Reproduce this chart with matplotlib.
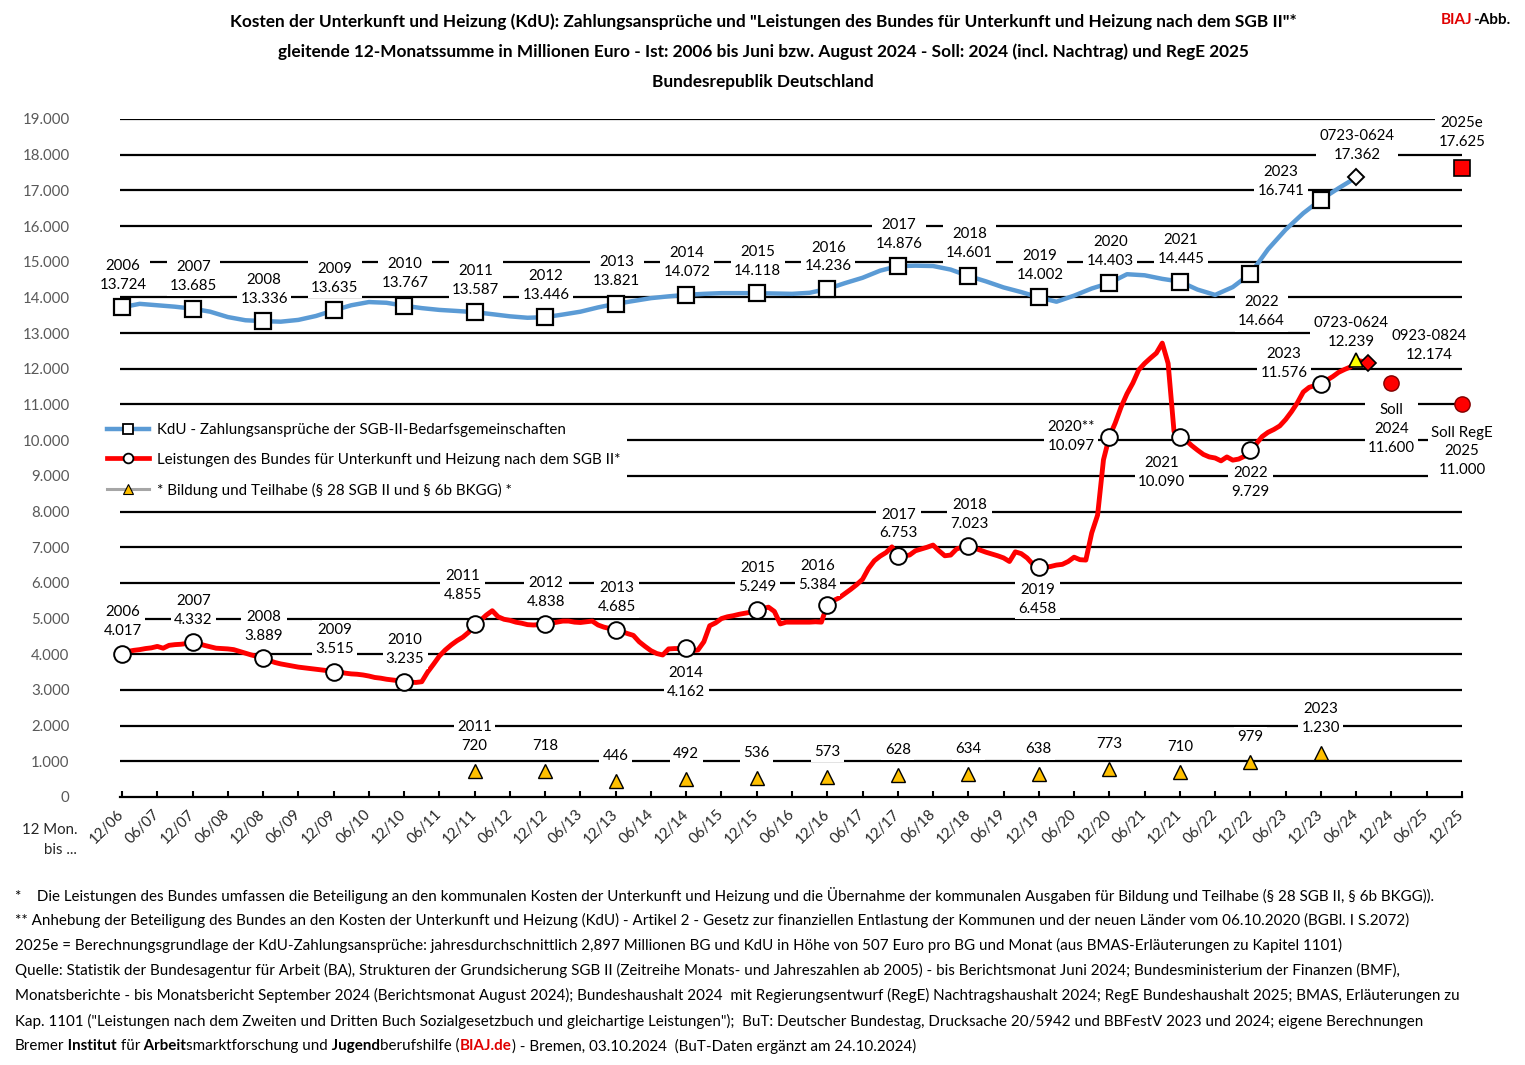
import matplotlib
matplotlib.use("Agg")
import matplotlib.pyplot as plt
from matplotlib.lines import Line2D

plt.rcParams['font.family'] = ['Lato', 'DejaVu Sans']

# x-Achse: 12-Monatszeitraum bis ...
x_labels = ['12/06', '06/07', '12/07', '06/08', '12/08', '06/09', '12/09', '06/10',
            '12/10', '06/11', '12/11', '06/12', '12/12', '06/13', '12/13', '06/14',
            '12/14', '06/15', '12/15', '06/16', '12/16', '06/17', '12/17', '06/18',
            '12/18', '06/19', '12/19', '06/20', '12/20', '06/21', '12/21', '06/22',
            '12/22', '06/23', '12/23', '06/24', '12/24', '06/25', '12/25']

# KdU-Zahlungsansprueche, gleitende 12-Monatssumme (Mio. Euro), vierteljaehrlich 12/06 .. 06/24
kdu_q = [13724,
         13820, 13780, 13740, 13685,
         13600, 13450, 13360, 13336,
         13320, 13370, 13480, 13635,
         13780, 13870, 13850, 13767,
         13700, 13650, 13620, 13587,
         13530, 13470, 13430, 13446,
         13520, 13600, 13720, 13821,
         13900, 13980, 14030, 14072,
         14100, 14120, 14120, 14118,
         14110, 14100, 14130, 14236,
         14400, 14550, 14750, 14876,
         14890, 14880, 14780, 14601,
         14450, 14280, 14150, 14002,
         13880, 14050, 14250, 14403,
         14650, 14620, 14520, 14445,
         14220, 14070, 14290, 14664,
         15350, 15900, 16360, 16741,
         17060, 17362]

# Leistungen des Bundes fuer KdU, gleitende 12-Monatssumme, monatlich 12/06 .. 08/24
bund_m = [4017,
          4080, 4110, 4130, 4160, 4180, 4220, 4170, 4250, 4270, 4280, 4300, 4332,
          4300, 4250, 4210, 4170, 4160, 4150, 4130, 4080, 4030, 3980, 3940, 3889,
          3830, 3770, 3730, 3700, 3670, 3640, 3620, 3600, 3580, 3560, 3540, 3515,
          3500, 3470, 3450, 3440, 3420, 3390, 3350, 3330, 3300, 3280, 3260, 3235,
          3220, 3210, 3230, 3500, 3720, 3950, 4120, 4260, 4380, 4480, 4620, 4855,
          4950, 5100, 5220, 5050, 4980, 4950, 4900, 4870, 4830, 4820, 4830, 4838,
          4870, 4900, 4930, 4930, 4900, 4890, 4910, 4930, 4820, 4760, 4720, 4685,
          4640, 4580, 4530, 4350, 4220, 4100, 4020, 3980, 4150, 4160, 4160, 4162,
          4100, 4120, 4350, 4800, 4880, 5000, 5050, 5080, 5120, 5150, 5180, 5249,
          5280, 5320, 5200, 4850, 4900, 4900, 4900, 4900, 4900, 4910, 4900, 5384,
          5500, 5580, 5700, 5820, 5950, 6100, 6400, 6620, 6750, 6850, 7010, 6753,
          6760, 6780, 6900, 6950, 7000, 7060, 6900, 6760, 6780, 6950, 7000, 7023,
          6980, 6920, 6860, 6810, 6760, 6700, 6600, 6870, 6820, 6700, 6520, 6458,
          6440, 6460, 6500, 6520, 6600, 6720, 6650, 6640, 7400, 7900, 9450, 10097,
          10480, 10930, 11300, 11600, 11970, 12150, 12300, 12440, 12720, 12150, 10250, 10090,
          10000, 9850, 9720, 9600, 9530, 9500, 9420, 9530, 9440, 9470, 9550, 9729,
          9900, 10100, 10220, 10300, 10400, 10580, 10800, 11050, 11350, 11480, 11530, 11576,
          11680, 11780, 11900, 11980, 12050, 12239, 12210, 12174]

years = list(range(2006, 2024))
kdu_dec = [13724, 13685, 13336, 13635, 13767, 13587, 13446, 13821, 14072,
           14118, 14236, 14876, 14601, 14002, 14403, 14445, 14664, 16741]
bund_dec = [4017, 4332, 3889, 3515, 3235, 4855, 4838, 4685, 4162,
            5249, 5384, 6753, 7023, 6458, 10097, 10090, 9729, 11576]
kdu_0624 = 17362
kdu_2025e = 17625
bund_0624 = 12239
bund_0824 = 12174
soll_2024 = 11600
soll_2025 = 11000

# Bildung und Teilhabe
but_years = list(range(2011, 2024))
but_vals = [720, 718, 446, 492, 536, 573, 628, 634, 638, 773, 710, 979, 1230]

BLUE = '#5B9BD5'
RED = '#FF0000'
ORANGE = '#FFC000'
W, H = 1525, 1065


def fmt(v):
    return f"{v:,}".replace(",", ".")


def mon(year, m=12):
    # Monate seit 12/2006
    return (year - 2006) * 12 + (m - 12)


fig = plt.figure(figsize=(W / 100, H / 100), dpi=100)
ax = fig.add_axes([104.4 / W, (H - 797) / H, (1479.6 - 104.4) / W, (797 - 119) / H])
ax.set_xlim(-3, 231)
ax.set_ylim(0, 19000)

# Gitternetz
ax.hlines(range(1000, 20000, 1000), -0.4, 228, color='black', lw=1.6, zorder=1)

for s in ['left', 'right', 'top']:
    ax.spines[s].set_visible(False)
ax.spines['bottom'].set_bounds(-0.4, 228)
ax.spines['bottom'].set_linewidth(1.6)

ax.set_xticks(range(0, 229, 6))
ax.set_xticklabels(x_labels, rotation=45, ha='right', va='center',
                   rotation_mode='anchor', fontsize=10.8, color='#262626')
ax.tick_params(axis='x', direction='in', length=4, width=1.5, pad=11)
ax.set_yticks(range(0, 20000, 1000))
ax.set_yticklabels([fmt(v) for v in range(0, 20000, 1000)], fontsize=10.8, color='#595959')
ax.tick_params(axis='y', length=0, pad=25)

# Linien
kdu_x = list(range(0, 211, 3))
ax.plot(kdu_x, kdu_q, color=BLUE, lw=3.2, zorder=3, solid_capstyle='round')
ax.plot(range(len(bund_m)), bund_m, color=RED, lw=3.5, zorder=3, solid_capstyle='round')

dec_x = [mon(y) for y in years]
ax.plot(dec_x, kdu_dec, ls='none', marker='s', ms=11, mfc='white', mec='black', mew=1.6, zorder=6)
ax.plot(dec_x, bund_dec, ls='none', marker='o', ms=12, mfc='white', mec='black', mew=1.4, zorder=6)
ax.plot([mon(2024, 6)], [kdu_0624], ls='none', marker='D', ms=8, mfc='white', mec='black', mew=1.4, zorder=6)
ax.plot([mon(2025)], [kdu_2025e], ls='none', marker='s', ms=11, mfc=RED, mec='black', mew=1.2, zorder=6, clip_on=False)
ax.plot([mon(2024, 6)], [bund_0624], ls='none', marker='^', ms=10, mfc='#FFFF00', mec='black', mew=1.2, zorder=7)
ax.plot([mon(2024, 8)], [bund_0824], ls='none', marker='D', ms=8, mfc=RED, mec='black', mew=1.2, zorder=6)
ax.plot([mon(2024), mon(2025)], [soll_2024, soll_2025], ls='none', marker='o', ms=11,
        mfc=RED, mec='#7F0000', mew=1.0, zorder=6, clip_on=False)

but_x = [mon(y) for y in but_years]
ax.plot(but_x, but_vals, ls='none', marker='^', ms=10, mfc=ORANGE, mec='black', mew=1.0, zorder=6)


def lab(x, y, text, dx=1, dy=32):
    ax.annotate(text, (x, y), xytext=(dx, dy), textcoords='offset pixels',
                ha='center', va='center', multialignment='center', fontsize=10.8,
                linespacing=1.45, zorder=5, annotation_clip=False,
                bbox=dict(boxstyle='square,pad=0.22', fc='white', ec='none'))


kdu_off = {2022: (11, -38), 2023: (-40, 18)}
for y, v in zip(years, kdu_dec):
    dx, dy = kdu_off.get(y, (1, 32))
    lab(mon(y), v, f"{y}\n{fmt(v)}", dx, dy)

bund_off = {2011: (-12, 38), 2014: (0, -34), 2016: (-10, 29), 2019: (-1, -33),
            2020: (-38, 0), 2021: (-18, -36), 2022: (0, -33), 2023: (-37, 20)}
for y, v in zip(years, bund_dec):
    dx, dy = bund_off.get(y, (1, 32))
    name = "2020**" if y == 2020 else str(y)
    lab(mon(y), v, f"{name}\n{fmt(v)}", dx, dy)

lab(mon(2024, 6), kdu_0624, f"0723-0624\n{fmt(kdu_0624)}", 1, 32)
lab(mon(2025), kdu_2025e, f"2025e\n{fmt(kdu_2025e)}", 0, 36)
lab(mon(2024, 6), bund_0624, f"0723-0624\n{fmt(bund_0624)}", -5, 28)
lab(mon(2024, 8), bund_0824, f"0923-0824\n{fmt(bund_0824)}", 61, 17)
lab(mon(2024), soll_2024, f"Soll\n2024\n{fmt(soll_2024)}", 0, -46)
lab(mon(2025), soll_2025, f"Soll RegE\n2025\n{fmt(soll_2025)}", 0, -47)

for y, v in zip(but_years, but_vals):
    if y in (2011, 2023):
        lab(mon(y), v, f"{y}\n{fmt(v)}", 0, 35)
    else:
        lab(mon(y), v, fmt(v), 0, 25)

# Legende
handles = [
    Line2D([], [], color=BLUE, lw=3.2, marker='s', ms=7, mfc='white', mec='black', mew=1.3),
    Line2D([], [], color=RED, lw=3.4, marker='o', ms=7, mfc='white', mec='black', mew=1.3),
    Line2D([], [], color='#A6A6A6', lw=2.2, marker='^', ms=7, mfc=ORANGE, mec='black', mew=0.8),
]
names = ['KdU - Zahlungsansprüche der SGB-II-Bedarfsgemeinschaften',
         'Leistungen des Bundes für Unterkunft und Heizung nach dem SGB II*',
         '* Bildung und Teilhabe (§ 28 SGB II und § 6b BKGG) *']
leg = ax.legend(handles, names, loc='upper left', bbox_to_anchor=(100 / W, 1 - 416 / H),
                bbox_transform=fig.transFigure, fontsize=10.9, frameon=True, fancybox=False,
                facecolor='white', edgecolor='none', framealpha=1, handlelength=2.8,
                handletextpad=0.5, labelspacing=1.05, borderpad=0.45, borderaxespad=0)
leg.set_zorder(8)

fig.text(77 / W, 1 - 840 / H, "12 Mon.\nbis ...", ha='right', va='center',
         multialignment='right', fontsize=10.8, linespacing=1.6, color='#262626')

# Titel
titles = ['Kosten der Unterkunft und Heizung (KdU): Zahlungsansprüche und "Leistungen des Bundes für Unterkunft und Heizung nach dem SGB II"*',
          'gleitende 12-Monatssumme in Millionen Euro - Ist: 2006 bis Juni bzw. August 2024 - Soll: 2024 (incl. Nachtrag) und RegE 2025',
          'Bundesrepublik Deutschland']
for i, t in enumerate(titles):
    fig.text(763 / W, 1 - (22 + 30 * i) / H, t, ha='center', va='center',
             fontsize=12.4, fontweight='bold')

renderer = fig.canvas.get_renderer()

# "BIAJ-Abb." oben rechts
abb = fig.text(1510 / W, 1 - 20 / H, '-Abb.', fontsize=11, fontweight='bold',
               ha='right', va='center')
x0 = abb.get_window_extent(renderer).x0
fig.text(x0 / W, 1 - 20 / H, 'BIAJ', fontsize=11, fontweight='bold', color='#E00000',
         ha='right', va='center')

notes = ['*    Die Leistungen des Bundes umfassen die Beteiligung an den kommunalen Kosten der Unterkunft und Heizung und die Übernahme der kommunalen Ausgaben für Bildung und Teilhabe (§ 28 SGB II, § 6b BKGG)).',
         '** Anhebung der Beteiligung des Bundes an den Kosten der Unterkunft und Heizung (KdU) - Artikel 2 - Gesetz zur finanziellen Entlastung der Kommunen und der neuen Länder vom 06.10.2020 (BGBl. I S.2072)',
         '2025e = Berechnungsgrundlage der KdU-Zahlungsansprüche: jahresdurchschnittlich 2,897 Millionen BG und KdU in Höhe von 507 Euro pro BG und Monat (aus BMAS-Erläuterungen zu Kapitel 1101)',
         'Quelle: Statistik der Bundesagentur für Arbeit (BA), Strukturen der Grundsicherung SGB II (Zeitreihe Monats- und Jahreszahlen ab 2005) - bis Berichtsmonat Juni 2024; Bundesministerium der Finanzen (BMF),',
         'Monatsberichte - bis Monatsbericht September 2024 (Berichtsmonat August 2024); Bundeshaushalt 2024  mit Regierungsentwurf (RegE) Nachtragshaushalt 2024; RegE Bundeshaushalt 2025; BMAS, Erläuterungen zu',
         'Kap. 1101 ("Leistungen nach dem Zweiten und Dritten Buch Sozialgesetzbuch und gleichartige Leistungen");  BuT: Deutscher Bundestag, Drucksache 20/5942 und BBFestV 2023 und 2024; eigene Berechnungen']
note_size = 10.9
for i, t in enumerate(notes):
    fig.text(15 / W, 1 - (895 + 25.2 * i) / H, t, fontsize=note_size, va='center', ha='left')

# letzte Zeile: Stuecke aneinanderhaengen (Leerzeichen immer vorne im Stueck)
parts = [('Bremer', 'normal', 'black'), (' Institut', 'bold', 'black'),
         (' für', 'normal', 'black'), (' Arbeit', 'bold', 'black'),
         ('smarktforschung und', 'normal', 'black'), (' Jugend', 'bold', 'black'),
         ('berufshilfe (', 'normal', 'black'), ('BIAJ.de', 'bold', '#E00000'),
         (') - Bremen, 03.10.2024  (BuT-Daten ergänzt am 24.10.2024)', 'normal', 'black')]
xpos = 15
for s, wt, c in parts:
    t = fig.text(xpos / W, 1 - 1046 / H, s, fontsize=note_size, fontweight=wt, color=c,
                 va='center', ha='left')
    xpos = t.get_window_extent(renderer).x1

fig.savefig('out.png', dpi=100)
